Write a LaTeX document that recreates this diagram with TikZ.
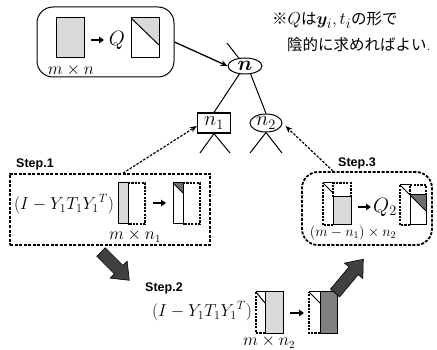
\documentclass[tikz,border=0pt]{standalone}
\usepackage{amsmath,bm}
\usepackage{fontspec}
\newfontfamily\jp{Noto Sans CJK JP}
\newfontfamily\stepfont{Liberation Sans}
\usetikzlibrary{arrows.meta,shapes.geometric}
\definecolor{lg}{HTML}{D9D9D9}
\definecolor{dg}{HTML}{808080}
\definecolor{tri}{HTML}{6E6E6E}
\definecolor{blk}{HTML}{404040}
\newcommand\bigmath[1]{{\fontsize{19}{20}\selectfont #1}}
\tikzset{
  mathtxt/.style={inner sep=0pt, font=\fontsize{18.5}{20}\selectfont},
  dimtxt/.style={inner sep=0pt, font=\fontsize{16}{18}\selectfont},
  steplbl/.style={inner sep=0pt, font=\stepfont\bfseries\fontsize{12.5}{14}\selectfont},
  jptxt/.style={inner sep=0pt, anchor=west, font=\fontsize{15.5}{17}\selectfont},
  treelbl/.style={inner sep=0pt, font=\fontsize{20}{22}\selectfont},
  mat/.style={line width=1pt},
  dmat/.style={line width=1.2pt, dash pattern=on 2.2pt off 1.2pt},
  dshbox/.style={draw, line width=1.8pt, dash pattern=on 3pt off 1.5pt, inner sep=0pt},
  dsharrow/.style={line width=1.2pt, dash pattern=on 2.5pt off 1.5pt, -{Stealth[length=7pt,width=5.5pt]}},
  sarrow/.style={line width=1.8pt, -{Triangle[length=5pt,width=6.5pt]}},
  treeedge/.style={line width=1pt},
  bigarrow/.style={fill=blk, draw=black, line width=0.6pt, line join=miter},
}
\begin{document}
\begin{tikzpicture}[x=1pt,y=-1pt]
\useasboundingbox (0,0) rectangle (437,350);

% ---- top box ----
\node[draw, line width=1pt, rounded corners=16pt, minimum width=137pt, minimum height=70pt, inner sep=0pt] (topbox) at (105.5,42) {};
\draw[mat, fill=lg] (56,18) rectangle (84,58);
\draw[sarrow] (91,40) -- (104,40);
\node[mathtxt, font=\fontsize{20}{22}\selectfont] (q) at (117,40) {$Q$};
\fill[lg] (131,18) -- (159,18) -- (159,45) -- cycle;
\draw[mat] (131,18) rectangle (159,58);
\draw[mat] (131,18) -- (159,45);
\node[dimtxt] (mn) at (71,70) {$m\times n$};

% ---- note ----
\node[jptxt] (note1) at (272,20) {{\jp ※}\bigmath{$Q$}{\jp は}\bigmath{$\bm{y}_i, t_i$}{\jp の形で}};
\node[jptxt] (note2) at (287,45) {{\jp 陰的に求めればよい}.};

% ---- tree ----
\node[draw, ellipse, line width=1pt, minimum width=34pt, minimum height=16pt, inner sep=0pt, treelbl] (n) at (245,66) {$\bm{n}$};
\node[draw, rectangle, line width=1.2pt, minimum width=33pt, minimum height=20pt, inner sep=0pt, treelbl] (n1) at (214,123) {$n_1$};
\node[draw, ellipse, line width=1pt, minimum width=32pt, minimum height=18pt, inner sep=0pt, treelbl] (n2) at (266,123) {$n_2$};
\coordinate (p) at (227,43);
\draw[treeedge] (p) -- (n);
\draw[treeedge] (n.235) -- (n1.north);
\draw[treeedge] (n.305) -- (n2.north);
\coordinate (a1) at (200,153);
\coordinate (a2) at (230,153);
\coordinate (b1) at (250,153);
\coordinate (b2) at (282,153);
\draw[treeedge] (a1) -- (n1.south) -- (a2);
\draw[treeedge] (b1) -- (n2.south) -- (b2);
\draw[line width=1.3pt, -{Stealth[length=7pt,width=6pt]}] (topbox.east) -- (n.west);

% ---- Step 1 ----
\node[dshbox, minimum width=200pt, minimum height=71pt] (step1) at (110,209.5) {};
\node[steplbl] (lbl1) at (35,164) {Step.1};
\node[mathtxt] (e1) at (64,204) {$(I-Y_1T_1{Y_1}^T)$};
\draw[mat, fill=lg] (118,183) rectangle (128,224);
\draw[dmat] (128,183) -- (145,183) -- (145,224) -- (128,224);
\node[dimtxt] (mn1) at (135,236) {$m\times n_1$};
\draw[sarrow] (153,203) -- (166,203);
\fill[tri] (173,183) -- (183,183) -- (183,193) -- cycle;
\draw[mat] (173,183) rectangle (183,224);
\draw[mat] (173,183) -- (183,193);
\draw[dmat] (183,183) -- (200,183) -- (200,224) -- (183,224);
\draw[dsharrow] ([xshift=13pt]step1.north) -- ([yshift=-3pt]n1.west);

% ---- Step 2 ----
\node[steplbl] (lbl2) at (164,288) {Step.2};
\node[mathtxt] (e2) at (202,311) {$(I-Y_1T_1{Y_1}^T)$};
\draw[dmat] (265,333) -- (256,333) -- (256,292);
\draw[mat] (256,292) -- (265,292);
\draw[mat] (256,292) -- (265,303);
\draw[mat, fill=lg] (265,292) rectangle (283,333);
\node[dimtxt] (mn2) at (269,342) {$m\times n_2$};
\draw[sarrow] (290,313) -- (304,313);
\draw[dmat] (320,333) -- (309,333) -- (309,292);
\draw[mat] (309,292) -- (320,292);
\draw[mat] (309,292) -- (320,303);
\draw[mat, fill=dg] (320,292) rectangle (337,333);

% ---- Step 3 ----
\node[dshbox, rounded corners=16pt, minimum width=130pt, minimum height=73pt] (step3) at (367,208.5) {};
\node[steplbl] (lbl3) at (357,163) {Step.3};
\draw[dmat] (333,225) -- (323,225) -- (323,183);
\draw[mat] (323,183) -- (333,183);
\draw[mat] (323,183) -- (333,193);
\draw[dmat] (333,197) -- (333,183) -- (351,183) -- (351,197);
\draw[mat, fill=lg] (333,197) rectangle (351,225);
\draw[sarrow] (358,207) -- (371,207);
\node[mathtxt, font=\fontsize{20}{22}\selectfont] (q2) at (385,207) {$Q_2$};
\draw[dmat] (410,225) -- (400,225) -- (400,185);
\draw[mat] (400,185) -- (410,185);
\draw[mat] (400,185) -- (410,195);
\draw[dmat] (410,195) -- (410,185) -- (426,185) -- (426,195);
\fill[tri] (410,195) -- (426,195) -- (426,211) -- cycle;
\draw[mat] (410,195) rectangle (426,225);
\draw[mat] (410,195) -- (426,211);
\node[dimtxt, font=\fontsize{14}{16}\selectfont] (mn3) at (353,233) {$(m-n_1)\times n_2$};
\draw[dsharrow] ([xshift=-34pt]step3.north) -- ([xshift=3pt,yshift=-3pt]n2.east);

% ---- big arrows ----
\begin{scope}[shift={(101,252)}, rotate=-45]
\draw[bigarrow] (0,-6) -- (25,-6) -- (25,-12) -- (40,0) -- (25,12) -- (25,6) -- (0,6) -- cycle;
\end{scope}
\begin{scope}[shift={(335,293)}, rotate=50]
\draw[bigarrow] (0,-6) -- (29,-6) -- (29,-12) -- (44,0) -- (29,12) -- (29,6) -- (0,6) -- cycle;
\end{scope}
\end{tikzpicture}
\end{document}
